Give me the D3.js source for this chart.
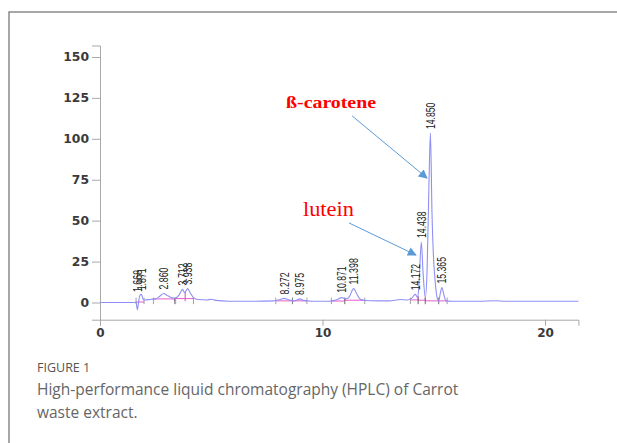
<!DOCTYPE html>
<html>
<head>
<meta charset="utf-8">
<script src="https://cdn.jsdelivr.net/npm/d3@7"></script>
<style>
  body { margin: 0; background: #fff; }
  svg { display: block; }
</style>
</head>
<body>
<svg id="chart" width="617" height="443"></svg>
<script>
// chromatogram trace: retention time (min) / signal (mAU)
var traceTime = [0, 1.55, 1.62, 1.68, 1.74, 1.80, 1.87, 1.92, 2.0, 2.3, 2.5, 2.7, 2.86, 3.0, 3.2, 3.35, 3.55, 3.71, 3.80, 3.94, 4.05, 4.2, 4.4, 4.8, 5.0, 5.2, 5.8, 7.0, 7.8, 8.1, 8.27, 8.45, 8.7, 8.85, 8.975, 9.15, 9.5, 10.3, 10.6, 10.87, 11.05, 11.2, 11.4, 11.55, 11.7, 11.9, 12.5, 13.0, 13.5, 13.8, 14.0, 14.17, 14.28, 14.35, 14.44, 14.52, 14.62, 14.7, 14.78, 14.85, 14.92, 14.98, 15.05, 15.15, 15.22, 15.30, 15.365, 15.45, 15.55, 15.8, 17.0, 17.8, 18.2, 21.5];
var traceValue = [0, 0, 0.2, -4.5, 1, 4.5, 5, 2.5, 1.5, 2, 2.2, 4, 5.5, 4.5, 3, 2.5, 4.5, 8, 6, 8.5, 6, 3, 1.8, 1.5, 2, 1.3, 0.8, 0.8, 1, 1.8, 2.5, 1.8, 1, 1.5, 2.2, 1.3, 0.8, 0.8, 1.5, 3, 2.2, 3.5, 8.5, 5, 2, 1.2, 1, 1, 1.8, 1.5, 2.5, 5, 3, 15, 37, 18, 3, 20, 70, 103.5, 55, 30, 15, 3, 1, 6, 9.2, 5, 1, 0.8, 0.8, 1.1, 0.8, 0.8];

// integrated peaks
var peakTimes = [1.668, 1.871, 2.860, 3.712, 3.938, 8.272, 8.975, 10.871, 11.398, 14.172, 14.438, 14.850, 15.365];
var peakHeights = [4, 5, 5.5, 8, 8.5, 2.5, 2.2, 3.5, 8.5, 5, 37, 103.5, 9.2];

// integration baselines (start, end, level) and drop lines (time, top)
var baseStart = [1.62, 2.4, 3.4, 7.9, 8.65, 10.4, 11.0, 13.95, 14.3, 14.62, 15.22];
var baseEnd = [1.98, 3.35, 4.2, 8.65, 9.3, 11.0, 11.9, 14.3, 14.62, 15.22, 15.6];
var baseLevel = [0.3, 2.2, 2.4, 1, 1, 0.9, 1.4, 1.6, 1.4, 1, 1];
var dropTime = [1.74, 3.35, 3.83, 8.65, 11.0, 14.3, 14.62, 15.22];
var dropTop = [1, 2.5, 6.5, 1, 2.2, 4, 3, 1];

var yTicks = [0, 25, 50, 75, 100, 125, 150];
var xTicks = [0, 10, 20];

// arrows and compound names, in data units
var noteText = ["\u00DF-carotene", "lutein"];
var noteAt = [[8.36, 119], [9.12, 53]];
var arrowFrom = [[11.33, 114], [11.19, 48.6]];
var arrowTo = [[14.70, 76], [14.20, 29]];

var captionLines = ["High-performance liquid chromatography (HPLC) of Carrot", "waste extract."];

var svg = d3.select("#chart");

var x = d3.scaleLinear().domain([0, 21.5]).range([100, 578.4]);
var y = d3.scaleLinear().domain([-10.5, 157]).range([319.7, 45.5]);

// frame around the figure
svg.append("path")
    .attr("d", "M9,443V12H617")
    .attr("fill", "none")
    .attr("stroke", "#8a8a8a")
    .attr("stroke-width", 1.5);

var axisColor = "#a8a8a8";

// y axis with minor ticks
var gy = svg.append("g").attr("transform", "translate(100,0)");
gy.call(d3.axisLeft(y).tickValues(d3.range(-10, 157, 5)).tickSize(4).tickFormat(""));
gy.call(d3.axisLeft(y).tickValues(yTicks).tickSize(8).tickPadding(3).tickFormat(d3.format("d")));
gy.selectAll(".domain, line").attr("stroke", axisColor);
gy.selectAll("text")
    .attr("font-family", "DejaVu Sans")
    .attr("font-size", 12)
    .attr("font-weight", "bold")
    .attr("fill", "#3a3a3a")
    .attr("textLength", function(){ return this.textContent.length * 8.6; })
    .attr("lengthAdjust", "spacingAndGlyphs");

// x axis with minor ticks
var gx = svg.append("g").attr("transform", "translate(0,319.7)");
gx.call(d3.axisBottom(x).tickValues(d3.range(0, 21.5, 2)).tickSize(4).tickFormat(""));
gx.call(d3.axisBottom(x).tickValues(xTicks).tickSize(6).tickPadding(3).tickFormat(d3.format("d")));
gx.selectAll(".domain, line").attr("stroke", axisColor);
gx.selectAll("text")
    .attr("font-family", "DejaVu Sans")
    .attr("font-size", 12)
    .attr("font-weight", "bold")
    .attr("fill", "#3a3a3a");

// integration baselines and drop lines
var pink = "#e85ccf";
svg.selectAll("line.base")
    .data(baseStart)
    .enter()
    .append("line")
    .attr("class", "base")
    .attr("x1", function(d){ return x(d); })
    .attr("x2", function(d, i){ return x(baseEnd[i]); })
    .attr("y1", function(d, i){ return y(baseLevel[i]); })
    .attr("y2", function(d, i){ return y(baseLevel[i]); })
    .attr("stroke", pink)
    .attr("stroke-width", 1);

svg.selectAll("line.drop")
    .data(dropTime)
    .enter()
    .append("line")
    .attr("class", "drop")
    .attr("x1", function(d){ return x(d); })
    .attr("x2", function(d){ return x(d); })
    .attr("y1", function(d){ return y(0.8); })
    .attr("y2", function(d, i){ return y(dropTop[i]); })
    .attr("stroke", pink)
    .attr("stroke-width", 1.2);

// start / end markers of integration
svg.selectAll("line.mark")
    .data(baseStart.concat(baseEnd))
    .enter()
    .append("line")
    .attr("class", "mark")
    .attr("x1", function(d){ return x(d); })
    .attr("x2", function(d){ return x(d); })
    .attr("y1", y(3))
    .attr("y2", y(-1))
    .attr("stroke", "#777")
    .attr("stroke-width", 0.7);

// the trace
var trace = traceTime.map(function(t, i){ return [t, traceValue[i]]; });
var line = d3.line()
    .x(function(d){ return x(d[0]); })
    .y(function(d){ return y(d[1]); })
    .curve(d3.curveMonotoneX);

svg.append("path")
    .datum(trace)
    .attr("d", line)
    .attr("fill", "none")
    .attr("stroke", "#8f8ff5")
    .attr("stroke-width", 1.1);

// peak retention time labels, tall and condensed like the instrument print
svg.selectAll("text.peak")
    .data(peakTimes)
    .enter()
    .append("text")
    .attr("class", "peak")
    .attr("transform", function(d, i){
        return "translate(" + (x(d) + 4.5) + "," + (y(peakHeights[i]) - 4) + ") rotate(-90)";
    })
    .attr("font-family", "'Liberation Sans', Arial, sans-serif")
    .attr("font-size", 12.5)
    .attr("fill", "#222")
    .text(function(d){ return d3.format(".3f")(d); })
    .attr("textLength", function(){ return this.textContent.length * 4.4; })
    .attr("lengthAdjust", "spacingAndGlyphs");

// arrows
var defs = svg.append("defs");
defs.append("marker")
    .attr("id", "head")
    .attr("viewBox", "0 0 10 10")
    .attr("refX", 9)
    .attr("refY", 5)
    .attr("markerWidth", 10)
    .attr("markerHeight", 9)
    .attr("markerUnits", "userSpaceOnUse")
    .attr("orient", "auto")
    .append("path")
    .attr("d", "M0,0L10,5L0,10Z")
    .attr("fill", "#5b9bd5");

svg.selectAll("line.arrow")
    .data(arrowFrom)
    .enter()
    .append("line")
    .attr("class", "arrow")
    .attr("x1", function(d){ return x(d[0]); })
    .attr("y1", function(d){ return y(d[1]); })
    .attr("x2", function(d, i){ return x(arrowTo[i][0]); })
    .attr("y2", function(d, i){ return y(arrowTo[i][1]); })
    .attr("stroke", "#5b9bd5")
    .attr("stroke-width", 1)
    .attr("marker-end", "url(#head)");

svg.selectAll("text.note")
    .data(noteText)
    .enter()
    .append("text")
    .attr("class", "note")
    .attr("x", function(d, i){ return x(noteAt[i][0]); })
    .attr("y", function(d, i){ return y(noteAt[i][1]); })
    .attr("font-family", "'Liberation Serif', 'Times New Roman', serif")
    .attr("font-weight", function(d, i){ return i == 0 ? "bold" : "normal"; })
    .attr("font-size", function(d, i){ return i == 0 ? 17 : 22; })
    .attr("textLength", function(d, i){ return i == 0 ? 90 : 51; })
    .attr("lengthAdjust", "spacingAndGlyphs")
    .attr("fill", "#ff0000")
    .text(function(d){ return d; });

// caption
svg.append("text")
    .attr("x", 37)
    .attr("y", 372)
    .attr("font-family", "'Open Sans', sans-serif")
    .attr("font-size", 12.5)
    .attr("fill", "#555")
    .text("FIGURE 1");

svg.selectAll("text.caption")
    .data(captionLines)
    .enter()
    .append("text")
    .attr("class", "caption")
    .attr("x", 37)
    .attr("y", function(d, i){ return 395 + i * 23; })
    .attr("font-family", "'Open Sans', sans-serif")
    .attr("font-size", 15.5)
    .attr("fill", "#666")
    .text(function(d){ return d; });
</script>
</body>
</html>
